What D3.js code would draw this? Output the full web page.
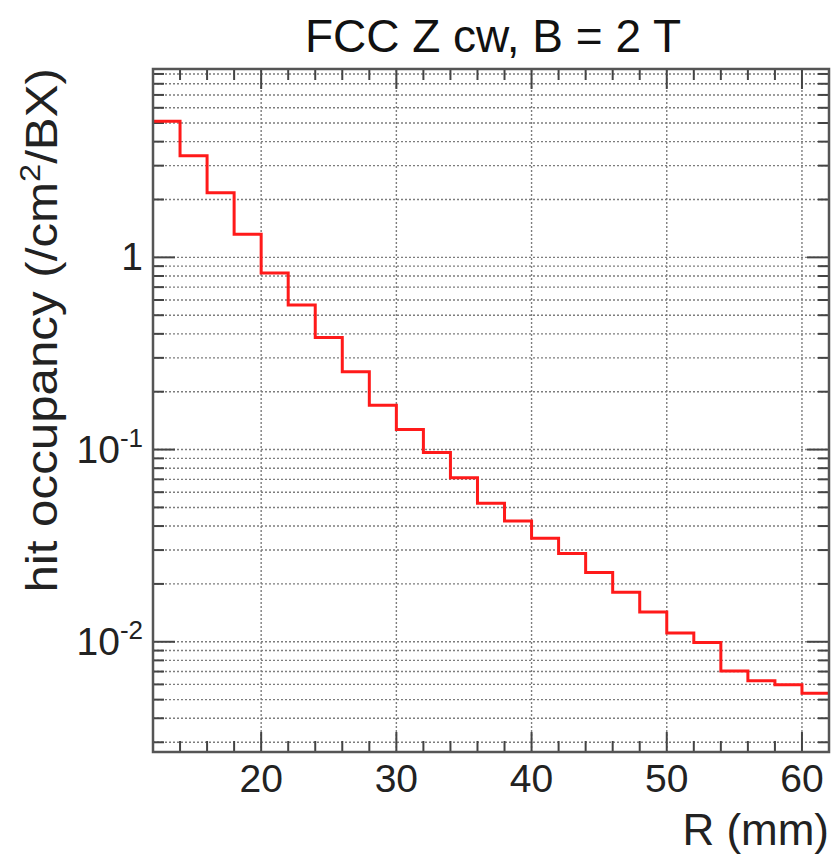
<!DOCTYPE html>
<html>
<head>
<meta charset="utf-8">
<script src="https://cdn.jsdelivr.net/npm/d3@7"></script>
<style>
  body { margin: 0; background: #fff; }
  svg { display: block; font-family: "Liberation Sans", Arial, sans-serif; }
</style>
</head>
<body>
<div id="chart"></div>
<script>
// histogram: 2 mm bins starting at R = 12 mm
const binStart = 12;
const binWidth = 2;
const occupancy = [5.1, 3.38, 2.17, 1.32, 0.83, 0.565, 0.383, 0.254, 0.170, 0.127,
    0.0966, 0.0713, 0.0525, 0.0425, 0.0346, 0.0288, 0.0229, 0.0181, 0.0143, 0.0111,
    0.0099, 0.00705, 0.00627, 0.00597, 0.0054];

const xDomain = [12, 62];
const yDomain = [0.00267, 9.55];
const xTickLabels = [20, 30, 40, 50, 60];
const yTickLabels = [
    { v: 1, base: '1', exp: '' },
    { v: 0.1, base: '10', exp: '-1' },
    { v: 0.01, base: '10', exp: '-2' }
];

const width = 836, height = 854;
const margin = { top: 69, right: 7, bottom: 102, left: 153 };

const svg = d3.select('#chart').append('svg')
    .attr('width', width)
    .attr('height', height);

const x = d3.scaleLinear().domain(xDomain).range([margin.left, width - margin.right]);
const y = d3.scaleLog().domain(yDomain).range([height - margin.bottom, margin.top]);

const x0 = x.range()[0], x1 = x.range()[1];
const y0 = y.range()[0], y1 = y.range()[1];

// grid values: every mantissa 1..9 in each decade
const yGrid = [];
for (let d = -3; d <= 0; d++) {
    for (let k = 1; k <= 9; k++) {
        const v = k * Math.pow(10, d);
        if (v >= yDomain[0] && v <= yDomain[1]) yGrid.push(v);
    }
}
const xMinor = d3.range(14, 62, 2);

const grid = svg.append('g')
    .attr('stroke', '#7d7d7d')
    .attr('stroke-width', 1.4)
    .attr('stroke-dasharray', '2,2');

grid.selectAll('.gy').data(yGrid).join('line')
    .attr('x1', x0).attr('x2', x1)
    .attr('y1', d => y(d)).attr('y2', d => y(d));

grid.selectAll('.gx').data(xTickLabels).join('line')
    .attr('x1', d => x(d)).attr('x2', d => x(d))
    .attr('y1', y0).attr('y2', y1);

// ticks (inside, on all four sides)
const ticks = svg.append('g').attr('stroke', '#444').attr('stroke-width', 2);
const isMajorY = v => Math.abs(Math.log10(v) - Math.round(Math.log10(v))) < 1e-9;

ticks.selectAll('.tyl').data(yGrid).join('line')
    .attr('x1', x0).attr('x2', d => x0 + (isMajorY(d) ? 22 : 11))
    .attr('y1', d => y(d)).attr('y2', d => y(d));
ticks.selectAll('.tyr').data(yGrid).join('line')
    .attr('x1', x1).attr('x2', d => x1 - (isMajorY(d) ? 22 : 11))
    .attr('y1', d => y(d)).attr('y2', d => y(d));

const isMajorX = v => v % 10 === 0;
ticks.selectAll('.txb').data(xMinor).join('line')
    .attr('x1', d => x(d)).attr('x2', d => x(d))
    .attr('y1', y0).attr('y2', d => y0 - (isMajorX(d) ? 20 : 11));
ticks.selectAll('.txt').data(xMinor).join('line')
    .attr('x1', d => x(d)).attr('x2', d => x(d))
    .attr('y1', y1).attr('y2', d => y1 + (isMajorX(d) ? 20 : 11));

// histogram as a step line
const pts = occupancy.map((v, i) => [binStart + i * binWidth, v]);
pts.push([binStart + occupancy.length * binWidth, occupancy[occupancy.length - 1]]);

const line = d3.line()
    .x(d => x(d[0]))
    .y(d => y(d[1]))
    .curve(d3.curveStepAfter);

svg.append('path')
    .datum(pts)
    .attr('d', line)
    .attr('fill', 'none')
    .attr('stroke', '#ff1a1a')
    .attr('stroke-width', 3);

// frame
svg.append('rect')
    .attr('x', x0).attr('y', y1)
    .attr('width', x1 - x0).attr('height', y0 - y1)
    .attr('fill', 'none')
    .attr('stroke', '#555')
    .attr('stroke-width', 2.5);

// x tick labels
svg.selectAll('.xl').data(xTickLabels).join('text')
    .attr('x', d => x(d))
    .attr('y', y0 + 40)
    .attr('text-anchor', 'middle')
    .attr('font-size', 39)
    .attr('fill', '#222')
    .text(d => d);

// y tick labels with exponent
const yl = svg.selectAll('.yl').data(yTickLabels).join('text')
    .attr('x', 143)
    .attr('y', d => y(d.v) + 13)
    .attr('text-anchor', 'end')
    .attr('font-size', 39)
    .attr('fill', '#222');
yl.append('tspan').text(d => d.base);
yl.append('tspan')
    .attr('font-size', 26)
    .attr('dy', -16)
    .text(d => d.exp);

// titles
svg.append('text')
    .attr('x', 493)
    .attr('y', 52)
    .attr('text-anchor', 'middle')
    .attr('font-size', 46)
    .attr('fill', '#111')
    .text('FCC Z cw, B = 2 T');

svg.append('text')
    .attr('x', x1)
    .attr('y', 845)
    .attr('text-anchor', 'end')
    .attr('font-size', 44)
    .attr('fill', '#222')
    .text('R (mm)');

// y title stretched along its length to span the same height as the original
const yt = svg.append('text')
    .attr('transform', 'translate(57,68) rotate(-90) scale(1.12,1)')
    .attr('text-anchor', 'end')
    .attr('font-size', 44)
    .attr('fill', '#222');
yt.append('tspan').text('hit occupancy (/cm');
yt.append('tspan').attr('font-size', 29).attr('dy', -17).text('2');
yt.append('tspan').attr('dy', 17).text('/BX)');
</script>
</body>
</html>
